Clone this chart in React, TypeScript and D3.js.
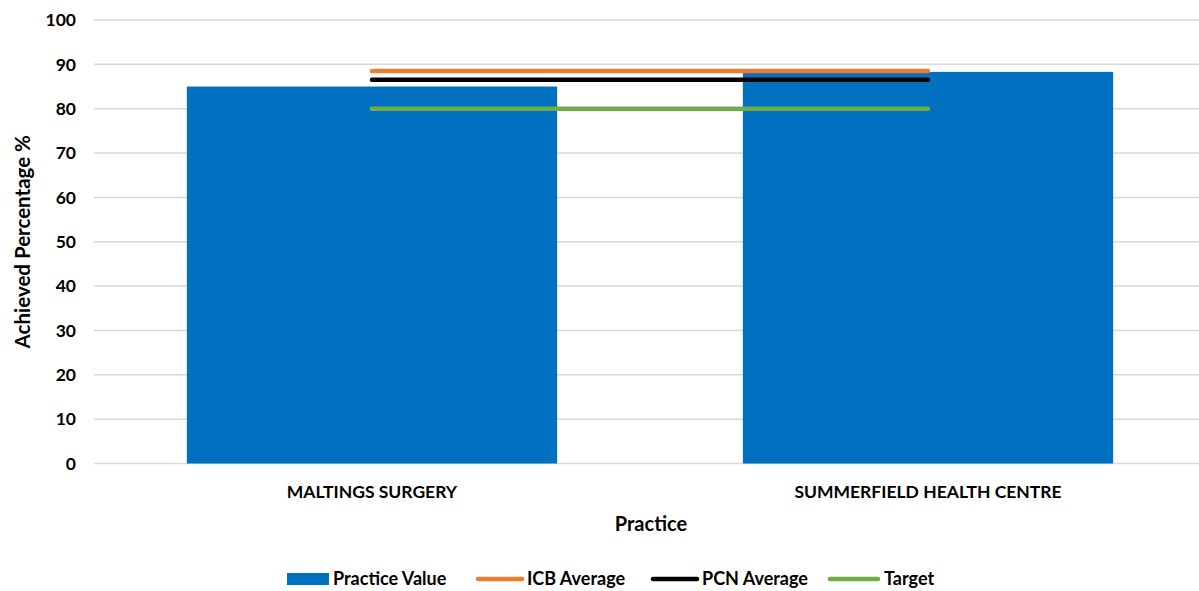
import { useEffect, useRef } from 'react'
import * as d3 from 'd3'

const categories = ['MALTINGS SURGERY', 'SUMMERFIELD HEALTH CENTRE']
const practiceValue = [85.0, 88.3]
const icbAverage = [88.5, 88.5]
const pcnAverage = [86.5, 86.5]
const target = [80, 80]
const yTicks = [0, 10, 20, 30, 40, 50, 60, 70, 80, 90, 100]

const FONT = 'Lato, "Open Sans", sans-serif'

const lineSeries = [
  { name: 'ICB Average', values: icbAverage, color: '#ed7d31' },
  { name: 'PCN Average', values: pcnAverage, color: '#000000' },
  { name: 'Target', values: target, color: '#70ad47' },
]

export default function App() {
  const svgRef = useRef<SVGSVGElement>(null)

  useEffect(() => {
    document.body.style.margin = '0'
    if (!svgRef.current) return
    const svg = d3.select(svgRef.current)
    svg.selectAll('*').remove()

    const width = 1199
    const height = 591
    const left = 94
    const right = 1206
    const top = 20
    const bottom = 463.5

    const x = d3.scaleBand<string>().domain(categories).range([left, right]).paddingInner(0).paddingOuter(0)
    const y = d3.scaleLinear().domain([0, 100]).range([bottom, top])
    const barW = x.bandwidth() * 0.666

    svg.attr('width', width).attr('height', height).style('font-family', FONT)

    // gridlines
    svg.append('g')
      .selectAll('line')
      .data(yTicks)
      .join('line')
      .attr('x1', left)
      .attr('x2', width)
      .attr('y1', d => y(d))
      .attr('y2', d => y(d))
      .attr('stroke', '#d9d9d9')
      .attr('stroke-width', 1.5)

    // y tick labels
    svg.append('g')
      .selectAll('text')
      .data(yTicks)
      .join('text')
      .attr('x', 76)
      .attr('y', d => y(d))
      .attr('dy', '0.36em')
      .attr('text-anchor', 'end')
      .attr('font-size', 17.5)
      .attr('font-weight', 700)
      .attr('fill', '#000')
      .text(d => d)

    // bars
    svg.append('g')
      .selectAll('rect')
      .data(categories)
      .join('rect')
      .attr('x', d => (x(d) as number) + (x.bandwidth() - barW) / 2)
      .attr('width', barW)
      .attr('y', (_, i) => y(practiceValue[i]))
      .attr('height', (_, i) => bottom - y(practiceValue[i]))
      .attr('fill', '#0070c0')

    // lines
    const line = d3.line<number>()
      .x((_, i) => (x(categories[i]) as number) + x.bandwidth() / 2)
      .y(d => y(d))

    lineSeries.forEach(s => {
      svg.append('path')
        .attr('d', line(s.values))
        .attr('fill', 'none')
        .attr('stroke', s.color)
        .attr('stroke-width', 4.5)
        .attr('stroke-linecap', 'round')
    })

    // x labels
    svg.append('g')
      .selectAll('text')
      .data(categories)
      .join('text')
      .attr('x', d => (x(d) as number) + x.bandwidth() / 2)
      .attr('y', 498)
      .attr('text-anchor', 'middle')
      .attr('font-size', 17.5)
      .attr('font-weight', 700)
      .text(d => d)

    // axis titles
    svg.append('text')
      .attr('x', 651)
      .attr('y', 531)
      .attr('text-anchor', 'middle')
      .attr('font-size', 20)
      .attr('font-weight', 700)
      .text('Practice')

    svg.append('text')
      .attr('transform', `translate(30, ${(top + bottom) / 2}) rotate(-90)`)
      .attr('text-anchor', 'middle')
      .attr('font-size', 20.5)
      .attr('font-weight', 700)
      .text('Achieved Percentage %')

    // legend
    const legendY = 579
    const lg = svg.append('g').attr('font-size', 18).attr('font-weight', 700)
    lg.append('rect').attr('x', 287).attr('y', legendY - 6).attr('width', 42).attr('height', 12).attr('fill', '#0070c0')
    lg.append('text').attr('x', 333).attr('y', legendY).attr('dy', '0.36em').text('Practice Value')
    const legendPos = [
      { x1: 478, x2: 522, tx: 527 },
      { x1: 653, x2: 697, tx: 702 },
      { x1: 830, x2: 878, tx: 884 },
    ]
    lineSeries.forEach((s, i) => {
      const p = legendPos[i]
      lg.append('line')
        .attr('x1', p.x1).attr('x2', p.x2)
        .attr('y1', legendY).attr('y2', legendY)
        .attr('stroke', s.color).attr('stroke-width', 4.5).attr('stroke-linecap', 'round')
      lg.append('text').attr('x', p.tx).attr('y', legendY).attr('dy', '0.36em').text(s.name)
    })
  }, [])

  return <svg ref={svgRef} style={{ display: 'block' }} />
}
